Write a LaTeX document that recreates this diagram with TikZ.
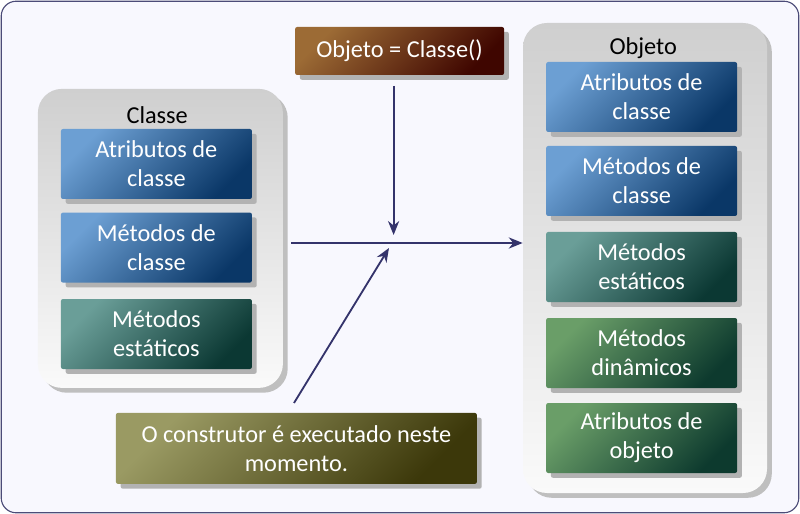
\documentclass[tikz,border=0pt]{standalone}
\usepackage{fontspec}
\setmainfont{Carlito}
\usepackage{xcolor}
\usepackage{tikz}
\usetikzlibrary{arrows.meta, positioning, shadows}
\definecolor{framecolor}{RGB}{76,76,120}
\definecolor{bgcolor}{RGB}{248,248,254}
\definecolor{arrowcolor}{RGB}{52,51,107}
\definecolor{classlight}{RGB}{108,159,211}
\definecolor{classdark}{RGB}{10,55,103}
\definecolor{staticlight}{RGB}{106,158,152}
\definecolor{staticdark}{RGB}{11,56,51}
\definecolor{dynlight}{RGB}{106,158,104}
\definecolor{dyndark}{RGB}{13,58,46}
\definecolor{calllight}{RGB}{156,107,53}
\definecolor{calldark}{RGB}{63,6,0}
\definecolor{notelight}{RGB}{154,154,99}
\definecolor{notedark}{RGB}{60,56,10}
\definecolor{grouptop}{RGB}{207,207,207}
\definecolor{groupbottom}{RGB}{250,250,250}

\begin{document}
\begin{tikzpicture}[
    txt/.style={font=\fontsize{17.3}{20.8}\selectfont, align=center},
    box/.style={txt, text=white, minimum width=4.775cm, minimum height=1.75cm, rounded corners=1.5pt,
        drop shadow={shadow xshift=0.12cm, shadow yshift=-0.12cm, fill=black!30, opacity=1}},
    classbox/.style={box, top color=classlight, bottom color=classdark, shading angle=45},
    staticbox/.style={box, top color=staticlight, bottom color=staticdark, shading angle=45},
    dynbox/.style={box, top color=dynlight, bottom color=dyndark, shading angle=45},
    grupo/.style={rounded corners=0.6cm, top color=grouptop, bottom color=groupbottom,
        drop shadow={shadow xshift=0.12cm, shadow yshift=-0.12cm, fill=black!25, opacity=1}},
    seta/.style={arrowcolor, line width=1.3pt, -{Stealth[length=0.35cm, width=0.28cm]}}
]
    \useasboundingbox (0,0) rectangle (20,-12.85);
    \draw[framecolor, fill=bgcolor, rounded corners=0.375cm, line width=0.8pt] (0.03,-0.03) rectangle (19.97,-12.82);

    % Classe
    \node[grupo, minimum width=6.125cm, minimum height=7.475cm] (classe) at (4.01,-5.96) {};
    \node[txt] (classelbl) at (3.93,-2.875) {Classe};
    \node[classbox] (catrib) at (3.91,-4.1) {Atributos de\\classe};
    \node[classbox] (cmet) at (3.91,-6.19) {Métodos de\\classe};
    \node[staticbox] (cstat) at (3.91,-8.35) {Métodos\\estáticos};

    % Objeto
    \node[grupo, minimum width=6.1cm, minimum height=11.75cm] (objeto) at (16.125,-6.45) {};
    \node[txt] (objetolbl) at (16.08,-1.2) {Objeto};
    \node[classbox] (oatrib) at (16.04,-2.425) {Atributos de\\classe};
    \node[classbox] (omet) at (16.04,-4.525) {Métodos de\\classe};
    \node[staticbox] (ostat) at (16.04,-6.675) {Métodos\\estáticos};
    \node[dynbox] (odin) at (16.04,-8.825) {Métodos\\dinâmicos};
    \node[dynbox] (oobj) at (16.04,-10.95) {Atributos de\\objeto};

    % chamada e nota
    \node[box, top color=calllight, bottom color=calldark, shading angle=45,
        minimum width=5.225cm, minimum height=1.2cm] (call) at (9.99,-1.275) {Objeto = Classe()};
    \node[box, top color=notelight, bottom color=notedark, shading angle=45,
        minimum width=9.025cm, minimum height=1.775cm] (nota) at (7.41,-11.21)
        {O construtor é executado neste\\momento.};

    % setas
    \coordinate (hstart) at (7.275,-6.075);
    \coordinate (vtop) at (9.84,-2.15);
    \coordinate (vtip) at (9.84,-5.875);
    \coordinate (dstart) at (7.35,-10.075);
    \coordinate (dtip) at (9.725,-6.2);
    \draw[seta] (hstart) -- (objeto.west |- hstart);
    \draw[seta] (vtop) -- (vtip);
    \draw[seta] (dstart) -- (dtip);
\end{tikzpicture}
\end{document}
